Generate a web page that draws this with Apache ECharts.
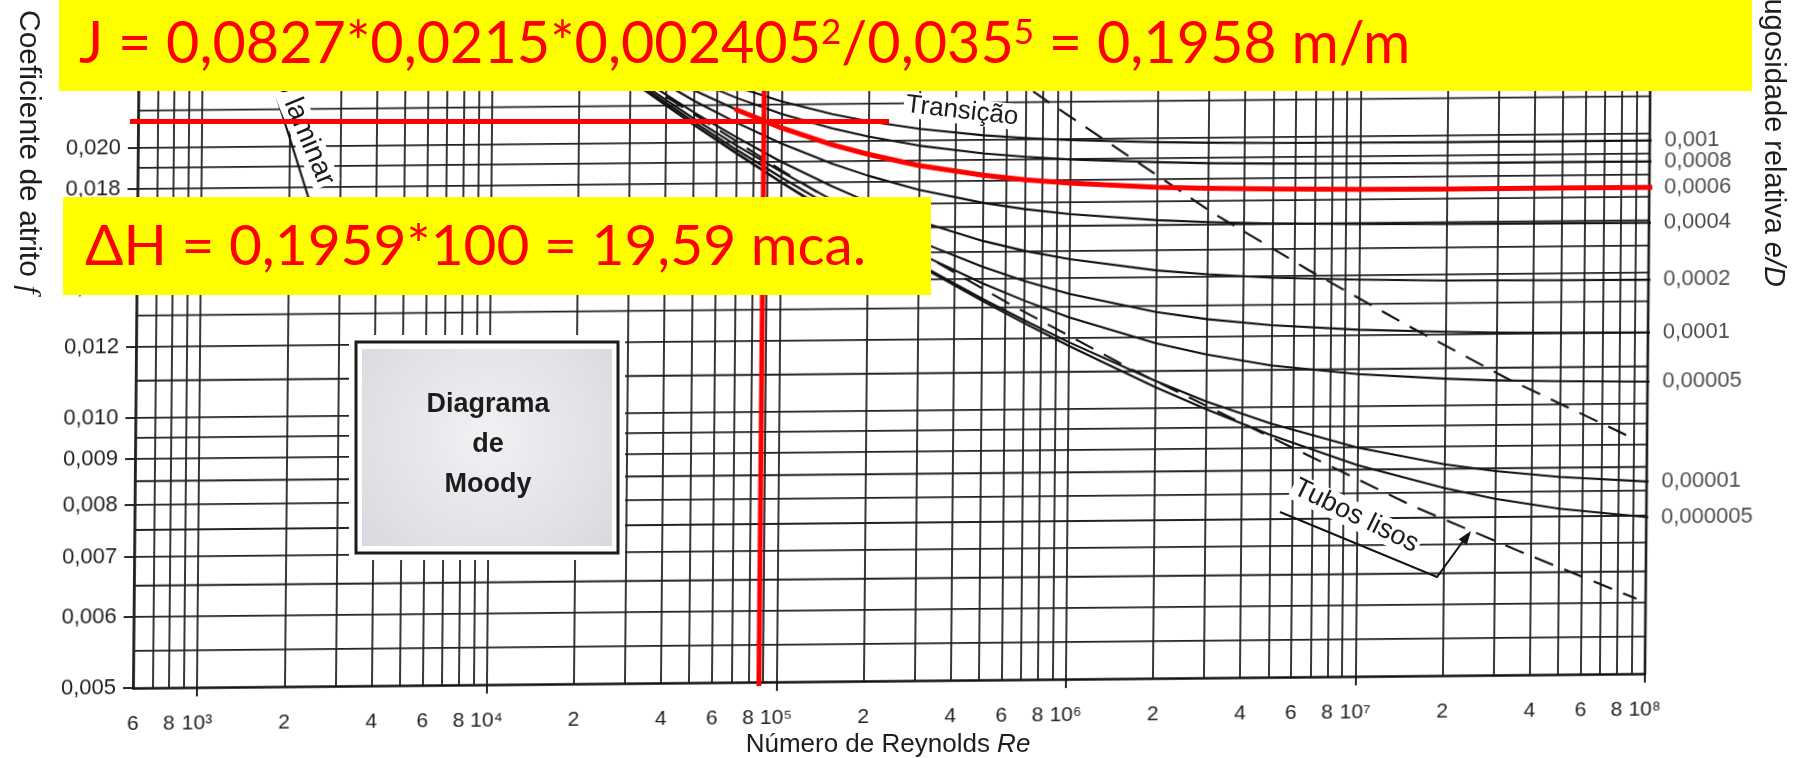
<!DOCTYPE html>
<html><head><meta charset="utf-8">
<script src="https://cdn.jsdelivr.net/npm/echarts@6/dist/echarts.min.js"></script>
<style>
html,body{margin:0;padding:0;background:#fff;overflow:hidden;width:1794px;height:758px;}
#a{position:absolute;left:0;top:0;width:1794px;height:800px;transform-origin:133px 688px;transform:matrix(1,-0.0095,-0.009,1,0,0);}
#b{position:absolute;left:0;top:0;width:1794px;height:758px;}
</style></head><body>
<div id="a"></div><div id="b"></div>
<script>
// ---------- data ----------
const xTickValues = [600,800,1e3,2e3,4e3,6e3,8e3,1e4,2e4,4e4,6e4,8e4,1e5,2e5,4e5,6e5,8e5,1e6,2e6,4e6,6e6,8e6,1e7,2e7,4e7,6e7,8e7,1e8];
const xTickLabels = ['6','8','10³','2','4','6','8','10⁴','2','4','6','8','10⁵','2','4','6','8','10⁶','2','4','6','8','10⁷','2','4','6','8','10⁸'];
const xMajorTicks = [1e3,1e4,1e5,1e6,1e7,1e8];
const yTickValues = [0.005,0.006,0.007,0.008,0.009,0.010,0.012,0.014,0.016,0.018,0.020];
const yTickLabels = ['0,005','0,006','0,007','0,008','0,009','0,010','0,012','0,014','0,016','0,018','0,020'];
const gridMultipliers = [1,2,3,4,5,6,7,8,9];
const gridDecades = [1e2,1e3,1e4,1e5,1e6,1e7];
const yGridValues = [0.0055,0.006,0.0065,0.007,0.0075,0.008,0.0085,0.009,0.0095,0.010,0.011,0.012,0.013,0.014,0.015,0.016,0.017,0.018,0.019,0.020,0.022,0.024,0.026,0.028];

// Reynolds numbers at which each roughness curve was read
const reNodes = [3e4,5e4,7e4,1e5,1.5e5,2e5,3e5,5e5,7e5,1e6,2e6,3e6,5e6,1e7,2e7,3e7,5e7,1e8,1.08e8];
const roughLabels = ['0,001','0,0008','0,0006','0,0004','0,0002','0,0001','0,00005','0,00001','0,000005'];
const f_0001    = [0.02597,0.02402,0.02303,0.02218,0.02144,0.02103,0.0206,0.02023,0.02007,0.01994,0.01979,0.01974,0.0197,0.01967,0.01965,0.01965,0.01964,0.01964,0.01964];
const f_00008   = [0.0255,0.02346,0.0224,0.02148,0.02067,0.02022,0.01973,0.01931,0.01912,0.01897,0.0188,0.01873,0.01868,0.01865,0.01863,0.01862,0.01862,0.01861,0.01861];
const f_00006   = [0.02503,0.02286,0.02173,0.02073,0.01982,0.01932,0.01875,0.01826,0.01803,0.01785,0.01763,0.01756,0.0175,0.01745,0.01743,0.01742,0.01742,0.01741,0.01741];
const f_00004   = [0.02453,0.02225,0.02102,0.01991,0.01888,0.01829,0.01762,0.01701,0.01672,0.01649,0.0162,0.0161,0.01602,0.01596,0.01593,0.01592,0.01591,0.0159,0.0159];
const f_00002   = [0.02401,0.02159,0.02025,0.019,0.01782,0.0171,0.01626,0.01543,0.01502,0.01469,0.01424,0.01408,0.01394,0.01384,0.01378,0.01377,0.01375,0.01374,0.01374];
const f_00001   = [0.02376,0.02125,0.01983,0.01853,0.01721,0.01642,0.01544,0.01444,0.0139,0.01344,0.0128,0.01255,0.01234,0.01217,0.01208,0.01204,0.01202,0.012,0.012];
const f_000005  = [0.02363,0.02107,0.01962,0.01826,0.01689,0.01604,0.01497,0.01384,0.01322,0.01265,0.01181,0.01146,0.01113,0.01086,0.01071,0.01065,0.01061,0.01058,0.01058];
const f_000001  = [0.02351,0.02093,0.01946,0.01805,0.01663,0.01572,0.01457,0.0133,0.01257,0.01187,0.01072,0.01016,0.00959,0.008995,0.0086,0.00844,0.0083,0.008187,0.008187];
const f_0000005 = [0.0235,0.02091,0.01943,0.01802,0.01659,0.01568,0.01452,0.01323,0.01248,0.01176,0.01055,0.00996,0.00931,0.0086,0.00809,0.00786,0.00765,0.00747,0.00747];

// laminar line
const lamRe = [1380, 2450];
const lamF  = [0.0297, 0.01673];
// "Tubos lisos" dashed line
const smoothRe = [4e4,5e4,1e5,2e5,3.5e5,6e5,1.7e6,6.7e6,1.56e7,3.6e7,9.3e7];
const smoothF  = [0.0225,0.0215,0.0186,0.0162,0.0146,0.0132,0.0110,0.00884,0.00773,0.00688,0.00606];
// complete-turbulence boundary (upper dashed line)
const boundRe = [6e5,8.7e5,3.1e6,6.7e6,1.47e7,3.27e7,9e7];
const boundF  = [0.0237,0.0218,0.0165,0.0142,0.0123,0.0107,0.00914];
// red annotations
const redVertRe = [87100, 87100];
const redVertF  = [0.00495, 0.03];
const redHorizRe = [533, 2.45e5];
const redHorizF  = [0.0214, 0.0214];
const redUnderRe = [1.154e8, 1.935e8];
const redUnderF  = [0.0176, 0.0176];

// ---------- helpers ----------
const FONT = "'Liberation Sans', Arial, Helvetica, sans-serif";
const NARROW = "'Liberation Sans Narrow', 'Liberation Sans', Arial, sans-serif";
const YEL = "Lato, 'Open Sans', sans-serif";
const pair = (xs, ys) => xs.map((x, i) => [x, ys[i]]);
const near = (arr, v) => arr.findIndex(t => Math.abs(t - v) / t < 1e-6);
const xGridValues = [];
gridDecades.forEach(d => gridMultipliers.forEach(m => { if (m * d >= 600) xGridValues.push(m * d); }));
xGridValues.push(1e8);

const curves = [f_0001,f_00008,f_00006,f_00004,f_00002,f_00001,f_000005,f_000001,f_0000005];
const GRID = {left:133, top:3, width:1512, height:685, containLabel:false};
const GRIDLINE = {color:'#222222', width:1.8};

const hGridSeries = yGridValues.map(v => ({
  type:'line', data:[[600, v],[1e8, v]], symbol:'none', silent:true, z:1, lineStyle:GRIDLINE
}));
const curveSeries = curves.map((fv) => ({
  type:'line', data: pair(reNodes, fv), symbol:'none', smooth:false, clip:false,
  silent:true, z:5, lineStyle:{color:'#121212', width:2.1, join:'round'}
}));
const roughLabelSeries = {
  type:'scatter', symbolSize:0, clip:false, silent:true, z:6,
  data: curves.map((fv, i) => ({value:[reNodes[reNodes.length - 1], fv[fv.length - 1]], name: roughLabels[i]})),
  label:{show:true, position:'right', distance:5, formatter: p => p.name, color:'#1e1e1e', fontSize:22, fontFamily:FONT}
};

const chartA = echarts.init(document.getElementById('a'), null, {renderer:'canvas'});
chartA.setOption({
  backgroundColor:'#ffffff',
  animation:false,
  grid: GRID,
  xAxis:{type:'log', logBase:10, min:600, max:1e8,
    axisLine:{show:true, onZero:false, lineStyle:{color:'#111', width:2.6}},
    axisTick:{show:true, customValues:xMajorTicks, length:9, lineStyle:{color:'#111', width:1.8}},
    axisLabel:{show:true, customValues:xTickValues, margin:26, fontSize:21, fontFamily:NARROW, color:'#1e1e1e',
      formatter: v => { const k = near(xTickValues, v); return k >= 0 ? xTickLabels[k] : ''; }},
    splitLine:{show:false}, minorTick:{show:false}, minorSplitLine:{show:false}},
  yAxis:{type:'log', logBase:10, min:0.005, max:0.029,
    axisLine:{show:true, onZero:false, lineStyle:{color:'#111', width:2.6}},
    axisTick:{show:true, customValues:yTickValues, length:10, lineStyle:{color:'#111', width:1.8}},
    axisLabel:{show:true, customValues:yTickValues, margin:17, fontSize:22, fontFamily:FONT, color:'#1e1e1e',
      formatter: v => { const k = near(yTickValues, v); return k >= 0 ? yTickLabels[k] : ''; }},
    splitLine:{show:false}, minorTick:{show:false}},
  series:[
    {type:'line', data:[[1000,0.01]], symbol:'none', silent:true, z:1, lineStyle:{opacity:0},
      markLine:{silent:true, symbol:['none','none'], label:{show:false}, animation:false,
        lineStyle:{color:GRIDLINE.color, width:GRIDLINE.width, type:'solid'},
        emphasis:{disabled:true},
        data: xGridValues.map(v => ({xAxis:v}))}},
    ...hGridSeries,
    {type:'line', data:[[1e8,0.005],[1e8,0.029]], symbol:'none', silent:true, z:2, lineStyle:{color:'#111', width:2.6}},
    {type:'line', data: pair(lamRe, lamF), symbol:'none', clip:false, silent:true, z:5, lineStyle:{color:'#121212', width:2.1}},
    ...curveSeries,
    roughLabelSeries,
    {type:'line', data: pair(smoothRe, smoothF), symbol:'none', smooth:false, clip:false, silent:true, z:5,
      lineStyle:{color:'#121212', width:2.1, type:[20,12]}},
    {type:'line', data: pair(boundRe, boundF), symbol:'none', smooth:false, clip:false, silent:true, z:5,
      lineStyle:{color:'#121212', width:2.1, type:[20,12]}},
    {type:'line', data: pair(reNodes.slice(2), f_00006.slice(2)), symbol:'none', smooth:false, clip:false, silent:true, z:9,
      lineStyle:{color:'#ff0000', width:5, join:'round', cap:'round'}},
    {type:'line', data: pair(redVertRe, redVertF), symbol:'none', clip:false, silent:true, z:10,
      lineStyle:{color:'#ff0000', width:5}}
  ]
});

const chartB = echarts.init(document.getElementById('b'), null, {renderer:'canvas'});
chartB.setOption({
  animation:false,
  grid: GRID,
  xAxis:{type:'log', logBase:10, min:600, max:1e8, show:false},
  yAxis:{type:'log', logBase:10, min:0.005, max:0.029, show:false},
  series:[
    {type:'line', data: pair(redHorizRe, redHorizF), symbol:'none', clip:false, silent:true, z:50, lineStyle:{color:'#ff0000', width:5}},
    {type:'line', data: pair(redUnderRe, redUnderF), symbol:'none', clip:false, silent:true, z:50, lineStyle:{color:'#ff0000', width:5}}
  ],
  graphic:{elements:[
    // Diagrama de Moody box
    {type:'rect', shape:{x:349,y:335,width:276,height:225}, style:{fill:'#ffffff'}, z:20},
    {type:'rect', shape:{x:356,y:342,width:262,height:211}, style:{fill:'#ffffff', stroke:'#1b1b1b', lineWidth:3}, z:21},
    {type:'rect', shape:{x:362,y:349,width:250,height:197},
      style:{fill:{type:'radial', x:0.5, y:0.45, r:0.85, colorStops:[{offset:0,color:'#f2f2f5'},{offset:1,color:'#d8d8de'}]}}, z:22},
    {type:'text', x:488, y:405, style:{text:'Diagrama', fontSize:27, fontWeight:'bold', fontFamily:FONT, fill:'#1c1c1c', align:'center', verticalAlign:'middle'}, z:23},
    {type:'text', x:488, y:445, style:{text:'de', fontSize:27, fontWeight:'bold', fontFamily:FONT, fill:'#1c1c1c', align:'center', verticalAlign:'middle'}, z:23},
    {type:'text', x:488, y:485, style:{text:'Moody', fontSize:27, fontWeight:'bold', fontFamily:FONT, fill:'#1c1c1c', align:'center', verticalAlign:'middle'}, z:23},
    // curve annotations
    {type:'text', x:962, y:111, rotation:-0.113, style:{text:'Transição', fontSize:26, fontFamily:FONT, fill:'#1c1c1c', align:'center', verticalAlign:'middle', backgroundColor:'#ffffff', padding:[0,2]}, z:30},
    {type:'text', x:327, y:185, rotation:-1.176, style:{text:'Escoamento laminar', fontSize:28, fontFamily:FONT, fill:'#1c1c1c', align:'right', verticalAlign:'middle', backgroundColor:'#ffffff', padding:[0,1]}, z:30},
    {type:'text', x:1356, y:516, rotation:-0.454, style:{text:'Tubos lisos', fontSize:27, fontFamily:FONT, fill:'#1c1c1c', align:'center', verticalAlign:'middle', backgroundColor:'#ffffff', padding:[0,2]}, z:30},
    {type:'polyline', shape:{points:[[1280,512],[1437,577],[1466,537]]}, style:{stroke:'#141414', lineWidth:2, fill:null}, z:31},
    {type:'polygon', shape:{points:[[1471,531],[1466.7,545.3],[1458.7,539.3]]}, style:{fill:'#141414'}, z:31},
    // axis titles
    {type:'text', x:28, y:10, rotation:-Math.PI/2, style:{text:'Coeficiente de atrito {i|f}', fontSize:30, fontFamily:FONT, fill:'#1e1e1e', align:'left', verticalAlign:'middle',
      rich:{i:{fontSize:30, fontFamily:"'Liberation Serif', serif", fontStyle:'italic', fill:'#1e1e1e'}}}, z:30},
    {type:'text', x:1773, y:287, rotation:-Math.PI/2, style:{text:'Rugosidade relativa {i|e/D}', fontSize:29, fontFamily:FONT, fill:'#1e1e1e', align:'right', verticalAlign:'middle',
      rich:{i:{fontSize:29, fontFamily:FONT, fontStyle:'italic', fill:'#1e1e1e'}}}, z:30},
    {type:'text', x:888, y:745, style:{text:'Número de Reynolds {i|Re}', fontSize:26, fontFamily:FONT, fill:'#1e1e1e', align:'center', verticalAlign:'middle',
      rich:{i:{fontSize:26, fontFamily:FONT, fontStyle:'italic', fill:'#1e1e1e'}}}, z:30},
    // yellow annotation boxes
    {type:'rect', shape:{x:59,y:-5,width:1693,height:96}, style:{fill:'#ffff00'}, z:100},
    {type:'text', x:79, y:44, style:{text:'J = 0,0827*0,0215*0,002405{s|2}/0,035{s|5} = 0,1958 m/m', fontSize:57.5, fontFamily:YEL, fill:'#ff0000', align:'left', verticalAlign:'middle',
      rich:{s:{fontSize:35, fontFamily:YEL, fill:'#ff0000', verticalAlign:'top'}}}, z:101},
    {type:'rect', shape:{x:63,y:197,width:868,height:98}, style:{fill:'#ffff00'}, z:100},
    {type:'text', x:85, y:247, style:{text:'ΔH = 0,1959*100 = 19,59 mca.', fontSize:56.8, fontFamily:YEL, fill:'#ff0000', align:'left', verticalAlign:'middle'}, z:101}
  ]}
});
</script>
</body></html>
